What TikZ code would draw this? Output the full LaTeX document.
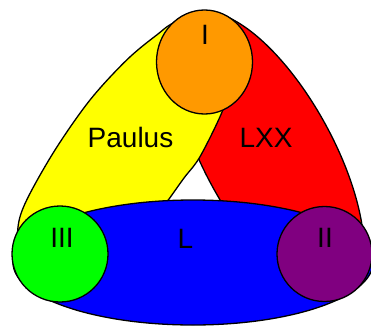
\documentclass[tikz,border=0pt]{standalone}
\usepackage{fontspec}
\setmainfont{Liberation Sans}
\definecolor{cyellow}{RGB}{255,255,0}
\definecolor{cred}{RGB}{255,0,0}
\definecolor{cblue}{RGB}{0,0,255}
\definecolor{corange}{RGB}{255,153,0}
\definecolor{cgreen}{RGB}{0,255,0}
\definecolor{cpurple}{RGB}{128,0,128}
\begin{document}
\begin{tikzpicture}[x=1pt,y=-1pt,
  blob/.style={draw=black,line width=1.3pt},
  lab/.style={inner sep=0pt,anchor=base,font=\fontsize{28}{32}\selectfont}]
\useasboundingbox (0,0) rectangle (371,329);
% LXX (red)
\draw[blob,fill=cred,rotate around={-61.35:(268.9,155.4)}] (268.9,155.4) ellipse [x radius=159.6,y radius=64.5];
% Paulus (yellow)
\draw[blob,fill=cyellow] plot[smooth cycle,tension=0.55] coordinates {
  (213,17) (176.7,21.7) (156.7,35) (126.7,60) (90,100) (55,150) (26.7,200)
  (18,227) (20,255) (38,285) (75,300) (120,275) (150,225) (168.3,200)
  (184,178) (200,156.7) (221.5,113.3) (228,90) (232,55) (225,25)};
% L (blue)
\draw[blob,fill=cblue] (193,262.5) ellipse [x radius=180,y radius=62.5];
% circles
\draw[blob,fill=corange] (204.5,62) ellipse [x radius=48,y radius=52];
\draw[blob,fill=cgreen] (60,254) circle [radius=48];
\draw[blob,fill=cpurple] (324.5,254) circle [radius=47.5];
% labels
\node[lab] (tI) at (205,45) {I};
\node[lab] (tPaulus) at (130.5,147) {Paulus};
\node[lab] (tLXX) at (266,147) {LXX};
\node[lab] (tL) at (185.5,248) {L};
\node[lab] (tIII) at (62,247) {III};
\node[lab] (tII) at (325,247) {II};
\end{tikzpicture}
\end{document}
